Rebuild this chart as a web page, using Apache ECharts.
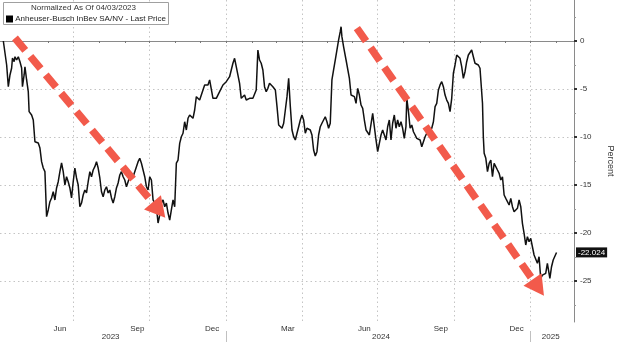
<!DOCTYPE html>
<html><head><meta charset="utf-8">
<script src="https://cdn.jsdelivr.net/npm/echarts@6/dist/echarts.min.js"></script>
<style>html,body{margin:0;padding:0;background:#fff}#c{width:620px;height:342px}</style>
</head><body><div id="c"></div>
<script>
// Axis range (dates)
const AXIS_START = '2023-04-04';
const AXIS_END = '2025-02-22';
// Days since AXIS_START for each observation
const dayOffsets = [4,6,8,10,12,14,15,17,18,20,22,24,26,27,29,30,32,34,35,38,40,42,44,46,48,50,52,54,56,58,60,62,64,66,68,70,72,74,76,78,80,82,84,86,88,90,92,94,96,98,100,102,104,106,108,110,112,114,116,118,
120,122,124,126,128,130,132,134,136,138,140,142,144,146,148,150,152,154,156,158,160,162,164,166,168,170,172,174,176,178,180,182,184,186,188,190,192,194,196,198,200,202,
204,206,208,210,212,214,216,218,220,222,224,226,228,230,232,234,236,238,240,242,244,246,248,250,252,254,256,258,260,262,264,266,268,270,272,274,276,278,280,282,284,286,288,290,292,294,296,298,300,302,304,306,308,310,312,314,316,318,320,322,324,326,328,331,333,335,
337,339,341,343,345,347,349,351,353,355,357,359,361,363,365,367,369,371,373,375,377,379,381,383,385,387,389,391,393,395,397,399,401,403,405,407,409,410,411,413,416,418,420,422,424,426,428,430,432,434,436,438,440,442,444,446,448,450,452,454,456,458,460,
462,464,466,468,470,472,474,476,478,480,482,484,486,488,489,491,493,495,497,499,501,503,505,507,509,511,513,515,517,519,521,523,525,527,529,531,533,535,537,539,541,543,545,547,549,551,553,555,557,559,561,563,565,567,569,571,573,575,577,578,
580,581,582,584,586,588,590,592,594,596,598,600,602,604,606,608,610,612,614,616,618,620,622,624,626,628,630,632,634,636,638,640,642,644,646,648,650,652,654,656,658,660,661,663,665,667,669];
// Percent change since 04/03/2023
const values = [0,-0.07,-2.50,-4.76,-3.54,-2.81,-1.77,-2.16,-1.64,-1.98,-1.64,-2.16,-2.81,-4.76,-3.54,-2.68,-4.06,-5.28,-7.36,-7.71,-8.23,-10.49,-10.31,-10.63,-11.15,-12.57,-13.23,-13.61,-18.30,-17.60,-16.74,-16.35,-15.70,-16.56,-15.31,-14.66,-13.61,-12.71,-13.61,-15.00,-14.14,-14.66,-15.31,-16.35,-14.66,-13.23,-14.27,-15.00,-17.26,-16.88,-16.04,-15.52,-15.83,-14.66,-13.61,-14.14,-13.44,-13.09,-12.57,-13.23,
-14.27,-15.70,-16.22,-15.52,-15.18,-15.83,-15.52,-16.35,-16.88,-16.22,-15.31,-14.79,-13.96,-13.61,-14.14,-14.48,-15.18,-15.31,-14.14,-13.78,-14.14,-14.27,-13.09,-12.57,-12.22,-12.74,-13.44,-14.14,-15.18,-15.52,-14.14,-14.48,-16.56,-16.88,-17.26,-18.96,-18.13,-16.88,-16.56,-17.26,-16.88,-17.92,
-18.65,-17.60,-16.56,-17.26,-12.71,-12.40,-10.66,-9.97,-9.61,-8.41,-9.27,-8.05,-7.71,-7.89,-8.05,-7.19,-5.80,-5.97,-6.15,-6.32,-5.10,-4.58,-4.41,-4.58,-4.06,-4.24,-5.97,-6.15,-5.97,-6.15,-5.28,-5.10,-4.58,-4.41,-4.24,-4.06,-3.72,-3.02,-2.32,-1.80,-2.68,-2.84,-4.41,-5.97,-5.80,-5.63,-6.15,-6.32,-5.97,-6.15,-5.97,-6.15,-5.10,-0.94,-1.98,-2.32,-3.02,-4.76,-5.28,-4.93,-4.41,-4.58,-4.76,-5.10,-6.84,-8.75,
-8.93,-9.09,-8.57,-7.19,-5.80,-3.89,-6.84,-9.27,-9.97,-10.31,-9.61,-8.93,-8.23,-7.71,-8.23,-9.61,-9.09,-8.93,-9.27,-9.79,-11.35,-11.98,-11.53,-9.79,-8.93,-8.57,-8.23,-7.89,-8.41,-9.09,-8.57,-4.06,-3.02,-1.98,-0.94,0.10,0.97,1.49,0.45,-0.59,-1.98,-1.98,-3.89,-5.63,-5.63,-5.80,-6.49,-4.93,-5.63,-6.67,-7.01,-8.23,-9.27,-9.09,-9.79,-9.61,-7.53,-8.93,-10.31,-11.53,-10.66,-9.79,-9.27,
-9.45,-10.31,-8.93,-8.23,-10.31,-8.57,-7.71,-9.09,-8.23,-8.93,-8.41,-9.09,-10.14,-8.93,-5.97,-7.36,-9.09,-8.75,-9.45,-9.79,-10.14,-9.97,-10.31,-11.01,-10.49,-9.97,-9.61,-9.27,-9.45,-9.09,-8.41,-6.84,-6.49,-5.10,-4.58,-4.24,-4.76,-5.63,-6.15,-6.49,-7.36,-5.97,-3.36,-2.50,-1.46,-1.64,-1.80,-2.68,-3.89,-3.20,-2.16,-1.46,-1.28,-0.94,-1.64,-2.32,-2.32,-2.50,-2.84,-4.06,
-6.49,-9.97,-11.70,-12.22,-13.61,-12.74,-12.40,-14.14,-12.74,-12.57,-13.44,-13.78,-14.48,-14.14,-16.04,-16.39,-16.56,-17.08,-16.39,-17.26,-17.78,-17.60,-17.43,-16.56,-17.26,-18.99,-20.03,-21.25,-20.39,-20.91,-20.55,-21.43,-22.29,-22.47,-23.16,-22.47,-24.72,-24.38,-24.55,-24.20,-23.16,-23.33,-24.72,-23.51,-22.81,-22.64,-22.024];

const yTicks = [0, -5, -10, -15, -20, -25];
const yMinorTicks = [2.5, -2.5, -7.5, -12.5, -17.5, -22.5, -27.5];
const monthTicks = ['2023-05-01','2023-06-01','2023-07-01','2023-08-01','2023-09-01','2023-10-01','2023-11-01','2023-12-01','2024-01-01','2024-02-01','2024-03-01','2024-04-01','2024-05-01','2024-06-01','2024-07-01','2024-08-01','2024-09-01','2024-10-01','2024-11-01','2024-12-01','2025-01-01','2025-02-01'];
const quarterLines = ['2023-07-01','2023-10-01','2024-01-01','2024-04-01','2024-07-01','2024-10-01','2025-01-01'];
const monthLabelDates = ['2023-06-15','2023-09-16','2023-12-15','2024-03-15','2024-06-15','2024-09-15','2024-12-15'];
const monthNames = ['Jan','Feb','Mar','Apr','May','Jun','Jul','Aug','Sep','Oct','Nov','Dec'];
const yearLabelDates = ['2023-08-15','2024-07-05','2025-01-25'];
const yearSeparators = ['2024-01-01','2025-01-01'];
// Annotation arrows (day offset / value)
const arrowFromDays = [18, 429];
const arrowFromValues = [0.31, 1.35];
const arrowToDays = [191, 647];
const arrowToValues = [-17.61, -25.69];

const DAY = 86400000;
const ts = s => new Date(s + 'T00:00:00').getTime();
const t0 = ts(AXIS_START);
const points = dayOffsets.map((d, i) => [t0 + d * DAY, values[i]]);
const lastValue = values[values.length - 1];
const FONT = 'Liberation Sans, Arial, sans-serif';
const ARROW = 'path://M5,0L10,10L0,10Z';
const RED = '#F25A4B';

const baseX = { type: 'value', min: t0, max: ts(AXIS_END), gridIndex: 0, position: 'bottom', scale: true };
const chart = echarts.init(document.getElementById('c'));
chart.setOption({
  animation: false,
  backgroundColor: '#fff',
  title: {
    left: 3, top: 2,
    text: '{a|Normalized As Of 04/03/2023}',
    subtext: '{sq|}{t| Anheuser-Busch InBev SA/NV - Last Price}',
    textAlign: 'left',
    itemGap: 3,
    padding: [2, 3, 2, 3],
    backgroundColor: '#fff', borderColor: '#a0a0a0', borderWidth: 1,
    textStyle: { fontSize: 8, fontWeight: 'normal', color: '#333', fontFamily: FONT,
      rich: { a: { width: 155, align: 'center', fontSize: 8, color: '#333', fontFamily: FONT } } },
    subtextStyle: { fontSize: 8, color: '#222', fontFamily: FONT,
      rich: { sq: { width: 7, height: 7, backgroundColor: '#000' }, t: { fontSize: 8, color: '#222', fontFamily: FONT } } }
  },
  grid: { left: 0, right: 46, top: 0, bottom: 20, containLabel: false, outerBoundsMode: 'none' },
  xAxis: [
    Object.assign({}, baseX, {
      axisLine: { show: true, lineStyle: { color: '#8a8a8a', width: 1 } },
      axisTick: { show: true, customValues: monthTicks.map(ts), length: 2, lineStyle: { color: '#777' } },
      axisLabel: { show: false }, splitLine: { show: false }
    }),
    Object.assign({}, baseX, {
      axisLine: { show: false },
      axisTick: { show: false, customValues: quarterLines.map(ts) },
      axisLabel: { show: false },
      splitLine: { show: true, lineStyle: { type: [1.5, 3], color: '#c4c4c4', width: 1 } }
    }),
    Object.assign({}, baseX, {
      axisLine: { show: false }, axisTick: { show: false }, splitLine: { show: false },
      axisLabel: { customValues: monthLabelDates.map(ts), margin: 3, fontSize: 8, color: '#333', fontFamily: FONT,
        formatter: v => monthNames[new Date(v).getMonth()] }
    }),
    Object.assign({}, baseX, {
      offset: 9,
      axisLine: { show: false }, splitLine: { show: false },
      axisTick: { show: true, customValues: yearSeparators.map(ts), length: 12, lineStyle: { color: '#c0c0c0' } },
      axisLabel: { customValues: yearLabelDates.map(ts), margin: 2, fontSize: 8, color: '#333', fontFamily: FONT,
        formatter: v => String(new Date(v).getFullYear()) }
    })
  ],
  yAxis: [
    {
      type: 'value', position: 'right', min: -29.27, max: 4.27,
      axisLine: { show: true, lineStyle: { color: '#8a8a8a', width: 1 } },
      axisTick: { show: true, customValues: yTicks, length: 3, lineStyle: { color: '#333', width: 2 } },
      axisLabel: { customValues: yTicks, margin: 6, fontSize: 8, color: '#333', fontFamily: FONT },
      splitLine: { show: true, lineStyle: { type: [1.5, 3], color: '#c4c4c4', width: 1 } },
      name: 'Percent', nameLocation: 'middle', nameRotate: -90, nameGap: 32,
      nameTextStyle: { fontSize: 9, color: '#333', fontFamily: FONT }
    },
    {
      type: 'value', position: 'right', min: -29.27, max: 4.27,
      axisLine: { show: false },
      axisTick: { show: true, customValues: yMinorTicks, length: 2, lineStyle: { color: '#999' } },
      axisLabel: { show: false }, splitLine: { show: false }
    }
  ],
  series: [{
    type: 'line', xAxisIndex: 0, yAxisIndex: 0,
    data: points, showSymbol: false, symbol: 'none', silent: true,
    lineStyle: { color: '#111', width: 1.5 },
    markLine: {
      silent: true, animation: false,
      symbol: ['none', ARROW], symbolSize: [22, 20],
      lineStyle: { color: RED, width: 7.5, type: [16, 8], cap: 'butt', opacity: 1 },
      label: { show: false },
      data: [
        [{ coord: [t0 + arrowFromDays[0] * DAY, arrowFromValues[0]] }, { coord: [t0 + arrowToDays[0] * DAY, arrowToValues[0]] }],
        [{ coord: [t0 + arrowFromDays[1] * DAY, arrowFromValues[1]] }, { coord: [t0 + arrowToDays[1] * DAY, arrowToValues[1]] }],
        { yAxis: lastValue, symbol: 'none', lineStyle: { color: 'rgba(0,0,0,0)', width: 0, type: 'solid' },
          label: { show: true, position: 'end', distance: 2, formatter: lastValue.toFixed(3),
            backgroundColor: '#111', color: '#fff', fontSize: 8, fontFamily: FONT, padding: [1, 2, 1, 2] } }
      ]
    }
  }]
});
</script>
</body></html>
